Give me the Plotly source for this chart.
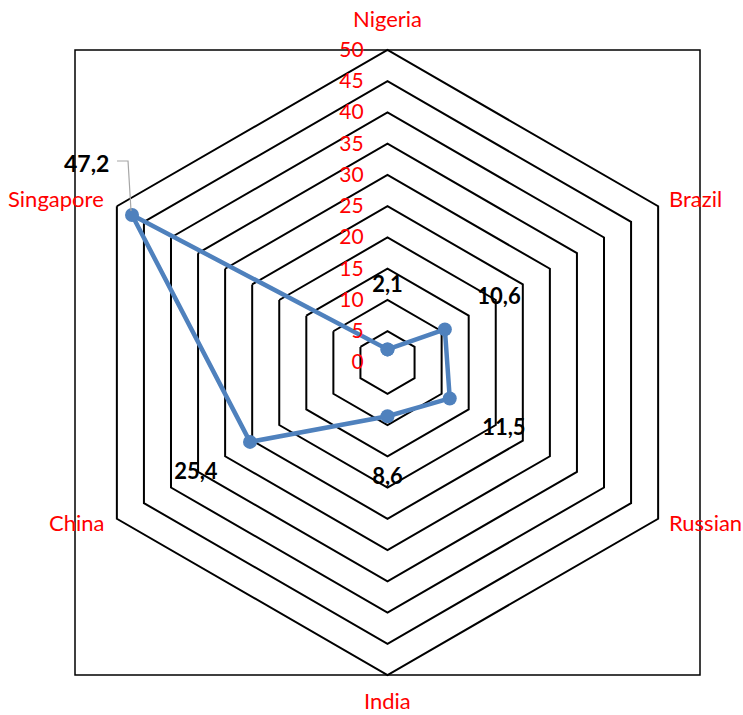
import math
import plotly.graph_objects as go

# Survey values per country
categories = ["Nigeria", "Brazil", "Russian", "India", "China", "Singapore"]
values = [2.1, 10.6, 11.5, 8.6, 25.4, 47.2]
radial_max = 50
radial_step = 5

FONT = "Lato"
BLUE = "#4F81BD"
SIDE = 625.0  # plot area size in px (square polar domain)


def fmt(v):
    return f"{v:.1f}".replace(".", ",")


def spoke_xy(i, r):
    """Paper coordinates of radius r on the i-th spoke (clockwise from top)."""
    a = math.radians(90 - 360 * i / len(categories))
    f = r / radial_max
    return 0.5 + 0.5 * f * math.cos(a), 0.5 + 0.5 * f * math.sin(a)


fig = go.Figure()

# Closed polygon of the series
fig.add_trace(go.Scatterpolar(
    r=values + [values[0]],
    theta=categories + [categories[0]],
    mode="lines+markers",
    line=dict(color=BLUE, width=4.5),
    marker=dict(size=14, color=BLUE),
    hoverinfo="skip",
    showlegend=False,
))

# Data labels, pushed outward along each spoke
label_push = 10
fig.add_trace(go.Scatterpolar(
    r=[v + label_push for v in values[:5]],
    theta=categories[:5],
    mode="text",
    text=[f"<b>{fmt(v)}</b>" for v in values[:5]],
    textfont=dict(family=FONT, size=22, color="black"),
    hoverinfo="skip",
    showlegend=False,
    cliponaxis=False,
))

# Last label sits off to the side with a leader line
idx = 5
px, py = spoke_xy(idx, values[idx])


def off(dx, dy):
    return px + dx / SIDE, py - dy / SIDE


fig.add_annotation(
    x=px, y=py, xref="paper", yref="paper",
    xanchor="center", yanchor="middle",
    text=f"<b>{fmt(values[idx])}</b>", showarrow=False,
    xshift=-46, yshift=52,
    font=dict(family=FONT, size=23, color="black"),
)
(x1, y1), (x2, y2), (x3, y3) = off(-15, -54), off(-4, -54), off(-1, -4)
fig.add_shape(
    type="path", xref="paper", yref="paper",
    path=f"M {x1} {y1} L {x2} {y2} L {x3} {y3}",
    line=dict(color="#A6A6A6", width=1.2),
)

# Category labels just outside the outer hexagon
cat_style = {
    # xanchor, xshift, yshift
    0: ("center", 0, 32),
    1: ("left", 10, 8),
    2: ("left", 10, -4),
    3: ("center", 0, -25),
    4: ("right", -12, -4),
    5: ("right", -12, 8),
}
for i, name in enumerate(categories):
    cx, cy = spoke_xy(i, radial_max)
    xa, xs, ys = cat_style[i]
    fig.add_annotation(
        x=cx, y=cy, xref="paper", yref="paper",
        xanchor=xa, yanchor="middle", xshift=xs, yshift=ys,
        text=name, showarrow=False, borderpad=0,
        font=dict(family=FONT, size=22, color="red"),
    )

# Frame around the plot area
fig.add_shape(
    type="rect", xref="paper", yref="paper", x0=0, y0=0, x1=1, y1=1,
    line=dict(color="black", width=1.5), layer="below",
)

fig.update_layout(
    width=743, height=715,
    margin=dict(l=75, r=43, t=50, b=40),
    paper_bgcolor="white",
    plot_bgcolor="white",
    font=dict(family=FONT),
    showlegend=False,
    polar=dict(
        domain=dict(x=[0, 1], y=[0, 1]),
        gridshape="linear",
        bgcolor="white",
        radialaxis=dict(
            range=[0, radial_max], dtick=radial_step, tick0=0,
            angle=90, side="counterclockwise",
            showline=False,
            gridcolor="black", gridwidth=2,
            ticks="outside", ticklen=16, tickcolor="rgba(0,0,0,0)",
            tickfont=dict(family=FONT, size=21, color="red"),
            tickangle=90,
        ),
        angularaxis=dict(
            type="category",
            categoryorder="array", categoryarray=categories,
            direction="clockwise", rotation=90,
            showgrid=False,
            showline=True, linecolor="black", linewidth=2,
            showticklabels=False, ticks="",
        ),
    ),
)

fig.write_html("out.html")
